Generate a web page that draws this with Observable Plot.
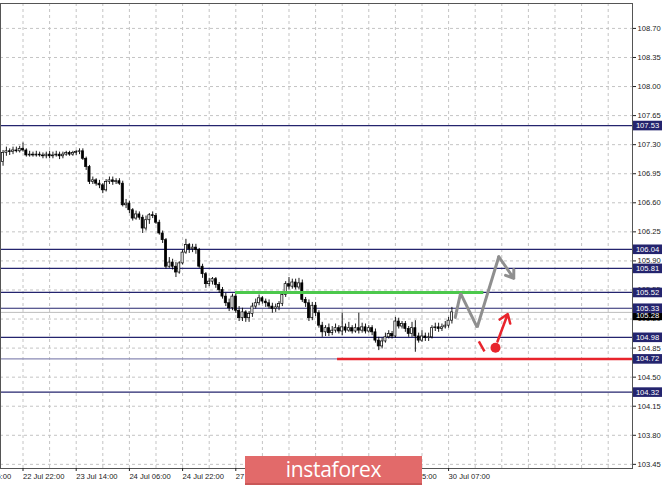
<!DOCTYPE html>
<html><head><meta charset="utf-8">
<script src="https://cdn.jsdelivr.net/npm/d3@7"></script>
<script src="https://cdn.jsdelivr.net/npm/@observablehq/plot@0.6"></script>
<style>
body{margin:0;background:#fff;}
#wrap{position:relative;width:665px;height:486px;overflow:hidden;font-family:"Liberation Sans",Arial,sans-serif;}
#wrap svg{position:absolute;left:0;top:0;}
#logo{position:absolute;left:245px;top:456px;width:177px;height:27px;background:#e26a6a;border-bottom:2px solid #c95757;color:#fff;font:400 21px "Open Sans",sans-serif;text-align:center;line-height:27px;letter-spacing:-0.3px;}
</style></head><body><div id="wrap"><div id="logo">instaforex</div></div>
<script>
// bar index of the first candle (index 0 = "22 Jul 22:00")
const firstIndex = -6;
const opens = [
107.09,107.20,107.22,107.21,107.23,107.22,107.25,107.23,107.17,107.18,
107.17,107.18,107.17,107.16,107.18,107.16,107.17,107.18,107.16,107.18,
107.20,107.18,107.20,107.21,107.22,107.13,107.03,106.85,106.87,106.83,
106.81,106.75,106.85,106.87,106.85,106.86,106.83,106.57,106.59,106.51,
106.41,106.46,106.42,106.29,106.39,106.45,106.44,106.36,106.23,106.15,
105.83,105.88,105.83,105.76,105.87,106.00,106.09,106.04,106.06,106.03,
105.83,105.74,105.62,105.65,105.68,105.61,105.55,105.47,105.39,105.33,
105.47,105.30,105.21,105.28,105.21,105.26,105.35,105.39,105.45,105.41,
105.39,105.35,105.32,105.34,105.38,105.49,105.62,105.59,105.64,105.58,
105.63,105.43,105.39,105.21,105.36,105.27,105.12,105.04,105.09,105.03,
105.06,105.09,105.05,105.10,105.06,105.09,105.05,105.09,105.06,105.10,
105.05,105.09,105.04,104.94,104.87,104.93,104.98,105.02,104.99,105.17,
105.11,105.14,105.08,105.02,105.09,104.99,104.94,104.99,104.97,104.98,
105.09,105.10,105.08,105.10,105.12,105.18];
const highs = [
107.23,107.27,107.25,107.27,107.27,107.28,107.32,107.25,107.22,107.21,
107.22,107.21,107.20,107.21,107.22,107.21,107.22,107.21,107.21,107.22,
107.22,107.22,107.23,107.25,107.25,107.15,107.05,106.91,106.89,106.87,
106.83,106.88,106.91,106.91,106.89,106.89,106.86,106.64,106.62,106.53,
106.50,106.49,106.45,106.44,106.47,106.49,106.47,106.39,106.26,106.17,
105.94,105.92,105.88,105.89,106.03,106.16,106.11,106.10,106.10,106.05,
105.86,105.76,105.69,105.70,105.70,105.64,105.58,105.51,105.44,105.50,
105.52,105.35,105.33,105.30,105.29,105.39,105.44,105.49,105.47,105.44,
105.43,105.39,105.38,105.41,105.52,105.65,105.70,105.68,105.68,105.69,
105.67,105.46,105.43,105.40,105.40,105.30,105.16,105.12,105.14,105.11,
105.14,105.12,105.27,105.14,105.16,105.12,105.14,105.27,105.15,105.14,
105.12,105.12,105.08,104.98,104.97,105.03,105.06,105.05,105.22,105.21,
105.17,105.17,105.11,105.16,105.18,105.03,105.06,105.03,105.03,105.12,
105.15,105.15,105.14,105.17,105.22,105.34];
const lows = [
107.04,107.16,107.17,107.18,107.20,107.20,107.21,107.15,107.15,107.15,
107.15,107.15,107.13,107.13,107.13,107.13,107.15,107.12,107.13,107.16,
107.16,107.16,107.17,107.18,107.11,106.99,106.82,106.82,106.80,106.77,
106.71,106.73,106.82,106.81,106.82,106.81,106.55,106.53,106.47,106.38,
106.39,106.39,106.23,106.26,106.34,106.41,106.34,106.21,106.11,105.80,
105.81,105.79,105.70,105.74,105.85,105.98,105.99,106.00,105.98,105.81,
105.69,105.57,105.59,105.61,105.57,105.51,105.44,105.35,105.29,105.30,
105.27,105.17,105.17,105.16,105.16,105.22,105.32,105.36,105.38,105.34,
105.32,105.27,105.28,105.30,105.35,105.46,105.55,105.56,105.55,105.55,
105.40,105.34,105.17,105.18,105.23,105.09,104.98,104.99,104.99,105.00,
105.03,105.02,105.00,105.03,105.04,105.02,105.03,105.02,105.03,105.02,
105.03,105.00,104.91,104.82,104.84,104.91,104.96,104.96,104.97,105.08,
105.08,105.04,104.98,104.98,104.80,104.91,104.92,104.93,104.93,104.96,
105.05,105.04,105.05,105.08,105.09,105.14];
const closes = [
107.20,107.22,107.21,107.23,107.22,107.25,107.23,107.17,107.18,107.17,
107.18,107.17,107.16,107.18,107.16,107.17,107.18,107.16,107.18,107.20,
107.18,107.20,107.21,107.22,107.13,107.03,106.85,106.87,106.83,106.81,
106.75,106.85,106.87,106.85,106.86,106.83,106.57,106.59,106.51,106.41,
106.46,106.42,106.29,106.39,106.45,106.44,106.36,106.23,106.15,105.83,
105.88,105.83,105.76,105.87,106.00,106.09,106.04,106.06,106.03,105.83,
105.74,105.62,105.65,105.68,105.61,105.55,105.47,105.39,105.33,105.47,
105.30,105.21,105.28,105.21,105.26,105.35,105.39,105.45,105.41,105.39,
105.35,105.32,105.34,105.38,105.49,105.62,105.59,105.64,105.58,105.63,
105.43,105.39,105.21,105.36,105.27,105.12,105.04,105.09,105.03,105.06,
105.09,105.05,105.10,105.06,105.09,105.05,105.09,105.06,105.10,105.05,
105.09,105.04,104.94,104.87,104.93,104.98,105.02,104.99,105.17,105.11,
105.14,105.08,105.02,105.09,104.99,104.94,104.99,104.97,104.98,105.09,
105.10,105.08,105.10,105.12,105.18,105.28];

const priceTicks = [103.45,103.80,104.15,104.50,104.85,105.20,105.55,105.90,106.25,106.60,106.95,107.30,107.65,108.00,108.35,108.70];
const timeTickIdx = [-16,0,16,32,48,64,80,96,112,128];
const timeTickLabels = ["22 Jul 06:00","22 Jul 22:00","23 Jul 14:00","24 Jul 06:00","24 Jul 22:00","27 Jul 14:00","28 Jul 06:00","28 Jul 22:00","29 Jul 15:00","30 Jul 07:00"];
const gridIdx = [0,8,16,24,32,40,48,56,64,72,80,88,96,104,112,120,128,136,144,152,160,168,176];

const levels = [107.53,106.04,105.81,105.52,105.33,104.98,104.72,104.32];
const currentPrice = 105.28;
const greenLevel = [{from:63.9, to:138.6, price:105.52}];
const redLevel = [{from:94.6, to:183.3, price:104.72}];
const grayPath = [{i:130.0,p:105.22},{i:131.6,p:105.51},{i:136.6,p:105.10},{i:143.1,p:105.95}];
const grayArrow = [{i1:143.1,p1:105.95,i2:147.6,p2:105.69}];
const redDash = [{i1:137.1,p1:104.93,i2:138.8,p2:104.81}];
const redArrow = [{i1:142.7,p1:104.93,i2:145.8,p2:105.26}];
const redDot = [{i:142.1,p:104.855}];

const candles = opens.map((o,k)=>({i:firstIndex+k,o,h:highs[k],l:lows[k],c:closes[k]}));
const labelByIdx = new Map(timeTickIdx.map((d,k)=>[d,timeTickLabels[k]]));

const navy = "#24246e";
const boxSymbol = {draw(ctx){ctx.rect(-14.5,-4.8,29,9.6);}};

const chart = Plot.plot({
  width:665, height:486,
  marginLeft:0, marginRight:33, marginTop:3, marginBottom:18,
  style:{fontFamily:"Liberation Sans, Arial, sans-serif", fontSize:"7.6px", background:"white", overflow:"visible"},
  x:{domain:[-6.767,183.31], axis:null},
  y:{domain:[103.40,109.00], axis:null},
  marks:[
    Plot.ruleY(priceTicks,{stroke:"#c4c4c4", strokeDasharray:"3,3"}),
    Plot.ruleX(gridIdx,{stroke:"#c4c4c4", strokeDasharray:"3,3"}),
    Plot.ruleY([currentPrice],{stroke:"#bdbdbd", strokeWidth:1}),
    Plot.ruleY(levels,{stroke:d=>d===104.72?"#8a8ab4":navy, strokeWidth:1.2}),
    Plot.ruleX(candles,{x:"i", y1:"l", y2:"h", stroke:"black", strokeWidth:0.9}),
    Plot.rect(candles,{x1:d=>d.i-0.32, x2:d=>d.i+0.32, y1:"o", y2:"c", fill:d=>d.c>=d.o?"white":"black", stroke:"black", strokeWidth:0.7}),
    Plot.ruleY(greenLevel,{y:"price", x1:"from", x2:"to", stroke:"#4cc84c", strokeWidth:3}),
    Plot.ruleY(redLevel,{y:"price", x1:"from", x2:"to", stroke:"#e8242c", strokeWidth:2.5}),
    Plot.line(grayPath,{x:"i", y:"p", stroke:"#8f8f8f", strokeWidth:3, strokeLinejoin:"miter"}),
    Plot.arrow(grayArrow,{x1:"i1", y1:"p1", x2:"i2", y2:"p2", stroke:"#8f8f8f", strokeWidth:3, headLength:12, headAngle:70}),
    Plot.link(redDash,{x1:"i1", y1:"p1", x2:"i2", y2:"p2", stroke:"#e8242c", strokeWidth:2.5}),
    Plot.arrow(redArrow,{x1:"i1", y1:"p1", x2:"i2", y2:"p2", stroke:"#e8242c", strokeWidth:2.5, headLength:10, headAngle:70}),
    Plot.dot(redDot,{x:"i", y:"p", r:5, fill:"#e8242c", stroke:"none"}),
    Plot.frame({stroke:"#555"}),
    Plot.axisY({anchor:"right", ticks:priceTicks, tickFormat:d=>d.toFixed(2), tickSize:3, tickPadding:2, label:null, color:"#222", fontSize:7.6}),
    Plot.axisX({anchor:"bottom", ticks:timeTickIdx, tickFormat:d=>labelByIdx.get(d), tickSize:3, tickPadding:2, textAnchor:"start", label:null, color:"#222", fontSize:7.6}),
    Plot.dot([currentPrice],{y:d=>d, frameAnchor:"right", dx:15, dy:3, symbol:boxSymbol, fill:"black", stroke:"none"}),
    Plot.text([currentPrice],{y:d=>d, frameAnchor:"right", dx:15, dy:3, text:d=>d.toFixed(2), textAnchor:"middle", fill:"white", fontSize:7.6}),
    Plot.dot(levels,{y:d=>d, frameAnchor:"right", dx:15, symbol:boxSymbol, fill:navy, stroke:"none"}),
    Plot.text(levels,{y:d=>d, frameAnchor:"right", dx:15, text:d=>d.toFixed(2), textAnchor:"middle", fill:"white", fontSize:7.6})
  ]
});
const wrap = document.getElementById("wrap");
wrap.insertBefore(chart, document.getElementById("logo"));
</script>
</body></html>
